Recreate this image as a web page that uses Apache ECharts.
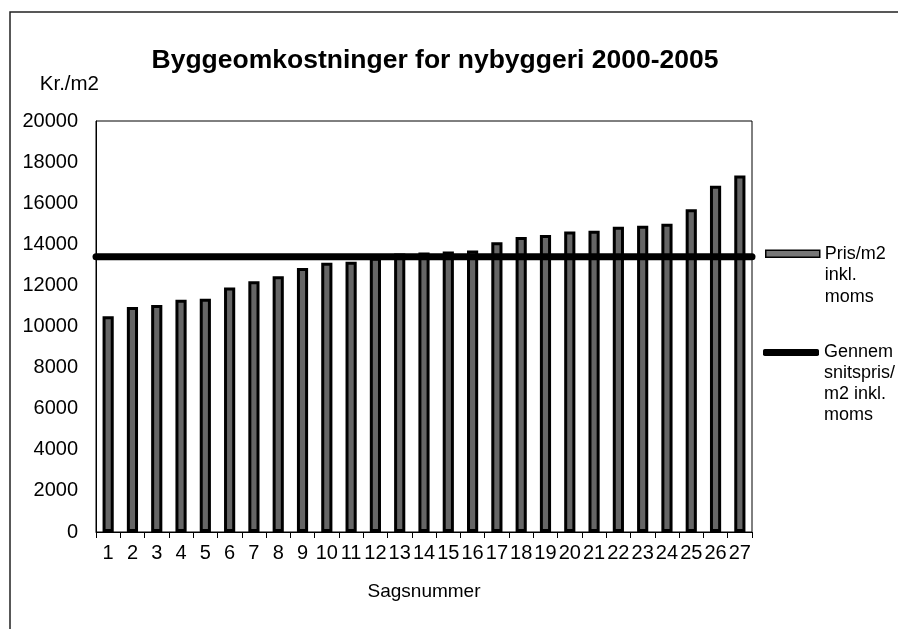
<!DOCTYPE html>
<html>
<head>
<meta charset="utf-8">
<script src="https://cdn.jsdelivr.net/npm/echarts@6/dist/echarts.min.js"></script>
<style>
html,body{margin:0;padding:0;background:#fff;}
#chart{width:898px;height:629px;}
</style>
</head>
<body>
<div id="chart"></div>
<script>
const categories = ['1','2','3','4','5','6','7','8','9','10','11','12','13','14','15','16','17','18','19','20','21','22','23','24','25','26','27'];
const prisPerM2 = [10500,10950,11050,11300,11350,11900,12200,12450,12850,13100,13150,13350,13550,13600,13650,13700,14100,14350,14450,14620,14660,14850,14900,15000,15700,16850,17350];
const gennemsnitspris = [13400,13400];
const avgCategories = ['start','end'];
const yTicks = { min: 0, max: 20000, interval: 2000 };
const titleText = 'Byggeomkostninger for nybyggeri 2000-2005';
const barName = 'Pris/m2\ninkl.\nmoms';
const lineName = 'Gennem\nsnitspris/\nm2 inkl.\nmoms';

const FONT = '"Liberation Sans", Arial, sans-serif';
function topAligned(name) {
  const n = name.split('\n').length;
  return '\n'.repeat(n - 1) + name;
}
const chart = echarts.init(document.getElementById('chart'), null, {renderer:'canvas'});
chart.setOption({
  animation: false,
  backgroundColor: '#fff',
  textStyle: { fontFamily: FONT, color: '#000' },
  graphic: [{
    type: 'rect', silent: true, z: 0,
    shape: { x: 10, y: 12, width: 1000, height: 1000 },
    style: { fill: 'none', stroke: '#222', lineWidth: 1.5 }
  }],
  title: {
    text: titleText,
    left: 430, top: 42, textAlign: 'center',
    textStyle: { fontFamily: FONT, fontSize: 26.5, fontWeight: 'bold', color: '#000' }
  },
  legend: [{
    data: [{ name: barName, icon: 'rect' }],
    formatter: topAligned,
    left: 765, top: 200, padding: 0,
    itemWidth: 54, itemHeight: 7, itemGap: 0,
    itemStyle: { color: '#777', borderColor: '#000', borderWidth: 1.5 },
    textStyle: { fontFamily: FONT, fontSize: 18, color: '#000', lineHeight: 21.5 }
  }, {
    data: [{ name: lineName, icon: 'roundRect' }],
    formatter: topAligned,
    left: 763, top: 279, padding: 0,
    itemWidth: 56, itemHeight: 7, itemGap: 0,
    itemStyle: { color: '#000', borderWidth: 0 },
    lineStyle: { width: 0 },
    textStyle: { fontFamily: FONT, fontSize: 18, color: '#000', lineHeight: 21 }
  }],
  grid: {
    left: 96, top: 121, right: 146, bottom: 97,
    show: true, borderColor: '#000', borderWidth: 1, containLabel: false
  },
  xAxis: [{
    type: 'category',
    data: categories,
    name: 'Sagsnummer',
    nameLocation: 'middle',
    nameGap: 50,
    nameTextStyle: { fontFamily: FONT, fontSize: 19, color: '#000' },
    axisLine: { lineStyle: { color: '#000', width: 1 } },
    axisTick: { show: true, alignWithLabel: false, length: 6, lineStyle: { color: '#000' } },
    axisLabel: { interval: 0, margin: 11, fontFamily: FONT, fontSize: 20, color: '#000' },
    splitLine: { show: false }
  }, {
    type: 'category',
    data: avgCategories,
    boundaryGap: false,
    position: 'bottom',
    show: false
  }],
  yAxis: {
    type: 'value',
    min: yTicks.min, max: yTicks.max, interval: yTicks.interval,
    name: 'Kr./m2',
    nameLocation: 'end',
    nameGap: 26,
    nameTextStyle: { fontFamily: FONT, fontSize: 20.5, color: '#000', align: 'right', padding: [0, -3, 0, 0] },
    axisLine: { show: true, lineStyle: { color: '#000', width: 1 } },
    axisTick: { show: false },
    axisLabel: { margin: 18, fontFamily: FONT, fontSize: 20, color: '#000', formatter: function (v) { return String(v); } },
    splitLine: { show: false }
  },
  series: [{
    name: barName,
    type: 'bar',
    xAxisIndex: 0,
    data: prisPerM2,
    barWidth: '46%',
    itemStyle: { color: '#666', borderColor: '#000', borderWidth: 3 },
    z: 2
  }, {
    name: lineName,
    type: 'line',
    xAxisIndex: 1,
    data: gennemsnitspris,
    symbol: 'none',
    lineStyle: { color: '#000', width: 7, cap: 'round' },
    itemStyle: { color: '#000' },
    z: 3
  }]
});
</script>
</body>
</html>
